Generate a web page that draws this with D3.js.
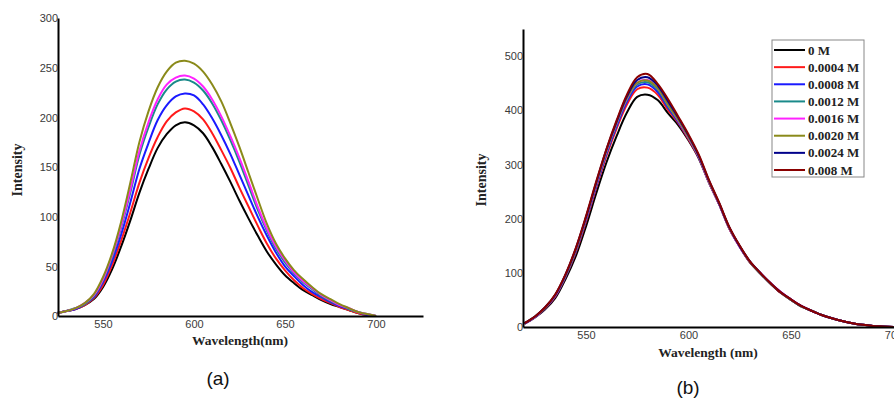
<!DOCTYPE html>
<html>
<head>
<meta charset="utf-8">
<script src="https://cdn.jsdelivr.net/npm/d3@7"></script>
<style>
  body { margin: 0; background: #fff; }
  svg { display: block; }
  .tick text { font-family: Arial, "Liberation Sans", sans-serif; font-size: 11px; fill: #3a3a3a; }
  .ttl { font-family: "Times New Roman", "Liberation Serif", serif; font-weight: bold; fill: #222; }
  .panel { font-family: Arial, "Liberation Sans", sans-serif; font-size: 19px; fill: #111; }
</style>
</head>
<body>
<div id="vis"></div>
<script>
// panel (a) - wavelength every 5 nm, 525..700
var wlA = [525,530,535,540,545,550,555,560,565,570,575,580,585,590,595,600,605,610,
  615,620,625,630,635,640,645,650,655,660,665,670,675,680,685,690,695,700];
var aBlack   = [3,5,7,11,17,29,47,70,96,124,148,169,183,192,195,192,184,170,153,135,116,98,81,65,52,41,33,26,21,16,12,9,6,3,1,0];
var aRed     = [3,5,7,11,18,31,51,76,104,134,159,180,196,205,209,206,198,184,167,149,129,110,91,73,58,46,36,28,22,17,13,9,6,3,1,0];
var aBlue    = [3,5,7,12,19,34,55,82,114,148,174,197,212,221,224,222,213,199,182,163,142,121,100,81,64,50,40,31,24,19,14,10,7,4,1,0];
var aTeal    = [3,5,8,12,20,36,59,89,124,162,190,213,228,236,238,235,227,214,197,177,155,131,107,86,68,54,43,34,27,20,15,11,7,4,2,0];
var aMagenta = [3,5,8,13,21,37,61,91,127,166,195,218,233,240,242,239,231,218,201,181,159,135,110,88,70,56,44,35,28,21,16,11,8,4,2,0];
var aOlive   = [3,5,8,13,22,39,63,95,134,175,206,230,246,255,257,254,246,233,216,194,170,144,118,93,73,58,46,37,29,22,17,12,8,4,2,0];
var aTicksY = [0,50,100,150,200,250,300];
var aTicksX = [550,600,650,700];

// panel (b) - wavelength every 5 nm, 520..700
var wlB = [520,525,530,535,540,545,550,555,560,565,570,575,580,585,590,595,600,605,610,
  615,620,625,630,635,640,645,650,655,660,665,670,675,680,685,690,695,700];
var b0   = [6,17,32,53,88,130,185,246,303,352,395,424,428,418,394,372,344,311,266,226,181,148,119,99,80,63,50,38,30,22,16,11,7,4,2,1,0];
var b4e4 = [6,18,34,56,92,137,194,256,315,366,410,438,441,428,400,376,346,312,267,226,181,148,119,99,80,63,50,38,30,22,16,11,7,4,2,1,0];
var b8e4 = [6,18,34,57,93,139,197,259,319,370,415,443,447,433,404,378,348,313,267,226,182,148,120,99,80,64,50,38,30,22,16,11,7,4,2,1,0];
var b12  = [7,18,35,58,94,141,199,262,322,374,419,447,451,437,407,380,349,314,268,227,182,149,120,99,80,64,50,38,30,22,16,11,7,4,2,1,0];
var b16  = [7,18,35,58,95,142,200,263,324,376,421,450,455,440,410,381,349,314,267,226,181,148,120,100,81,65,51,39,30,22,16,11,7,4,2,1,0];
var b20  = [7,19,35,59,95,142,201,264,325,377,422,450,454,440,410,382,350,315,268,227,182,149,120,99,80,64,50,38,30,22,16,11,7,4,2,1,0];
var b24  = [7,19,36,59,96,144,202,266,327,379,425,455,460,445,416,386,353,316,270,228,183,149,121,100,81,64,51,39,30,22,16,11,7,4,2,1,0];
var b80  = [7,19,36,60,97,145,204,268,328,381,428,460,466,448,420,388,355,318,271,229,184,150,121,100,81,64,51,39,30,22,16,11,7,4,2,1,0];
var bLabels = ["0 M","0.0004 M","0.0008 M","0.0012 M","0.0016 M","0.0020 M","0.0024 M","0.008 M"];
var bTicksY = [0,100,200,300,400,500];
var bTicksX = [550,600,650,700];

var colA = ["#000000","#ff1a1a","#1a1aff","#1a8a8a","#ff22ff","#8a8a1a"];
var colB = ["#000000","#ff1a1a","#1a1aff","#1a8a8a","#ff22ff","#8a8a1a","#00008a","#8a0000"];

var svg = d3.select("#vis").append("svg")
  .attr("width", 894).attr("height", 399);

function drawPanel(o) {
  var x = d3.scaleLinear().domain(o.xdom).range(o.xr);
  var y = d3.scaleLinear().domain(o.ydom).range(o.yr);

  var line = d3.line()
    .x(function(d){ return x(d[0]); })
    .y(function(d){ return y(d[1]); })
    .curve(d3.curveCatmullRom);

  o.series.forEach(function(s, i){
    svg.append("path")
      .datum(o.wl.map(function(w, j){ return [w, s[j]]; }))
      .attr("fill", "none")
      .attr("stroke", o.colors[i])
      .attr("stroke-width", 2)
      .attr("d", line);
  });

  var gx = svg.append("g")
    .attr("transform", "translate(0," + o.yr[0] + ")")
    .call(d3.axisBottom(x).tickValues(o.xticks).tickSize(0).tickPadding(4).tickFormat(d3.format("d")));
  var gy = svg.append("g")
    .attr("transform", "translate(" + o.xr[0] + ",0)")
    .call(d3.axisLeft(y).tickValues(o.yticks).tickSize(0).tickPadding(0).tickFormat(d3.format("d")));
  gy.selectAll(".tick text").attr("dy", "0.36em");
  [gx, gy].forEach(function(g){
    g.select(".domain").attr("stroke", "#000").attr("stroke-width", 2);
  });

  svg.append("text").attr("class", "ttl")
    .attr("x", o.xtitle[0]).attr("y", o.xtitle[1])
    .attr("text-anchor", "middle").style("font-size", "13.5px")
    .text(o.xlabel);
  svg.append("text").attr("class", "ttl")
    .attr("transform", "translate(" + o.ytitle[0] + "," + o.ytitle[1] + ") rotate(-90)")
    .attr("text-anchor", "middle").style("font-size", "14px")
    .text("Intensity");
  svg.append("text").attr("class", "panel")
    .attr("x", o.tag[0]).attr("y", o.tag[1])
    .attr("text-anchor", "middle")
    .text(o.tagText);
}

drawPanel({
  wl: wlA, series: [aBlack, aRed, aBlue, aTeal, aMagenta, aOlive], colors: colA,
  xdom: [525.3, 725.8], xr: [58, 423], ydom: [0, 300], yr: [316, 18],
  xticks: aTicksX, yticks: aTicksY,
  xlabel: "Wavelength(nm)", xtitle: [240, 345], ytitle: [22, 170],
  tag: [218, 385], tagText: "(a)"
});

drawPanel({
  wl: wlB, series: [b0, b4e4, b8e4, b12, b16, b20, b24, b80], colors: colB,
  xdom: [519.3, 710], xr: [523, 523 + 190.7 * 2.05], ydom: [0, 549], yr: [327, 29],
  xticks: bTicksX, yticks: bTicksY,
  xlabel: "Wavelength (nm)", xtitle: [708, 357], ytitle: [486, 180],
  tag: [688, 394], tagText: "(b)"
});

// legend for (b)
var lg = svg.append("g");
lg.append("rect")
  .attr("x", 772).attr("y", 40).attr("width", 92).attr("height", 137)
  .attr("fill", "#fff").attr("stroke", "#888").attr("stroke-width", 1);
var ly = d3.scalePoint().domain(bLabels).range([50, 170]);
bLabels.forEach(function(t, i){
  lg.append("line")
    .attr("x1", 774).attr("x2", 805)
    .attr("y1", ly(t)).attr("y2", ly(t))
    .attr("stroke", colB[i]).attr("stroke-width", 2);
  lg.append("text").attr("class", "ttl")
    .attr("x", 808).attr("y", ly(t)).attr("dy", "0.35em")
    .style("font-size", "13px")
    .text(t);
});
</script>
</body>
</html>
